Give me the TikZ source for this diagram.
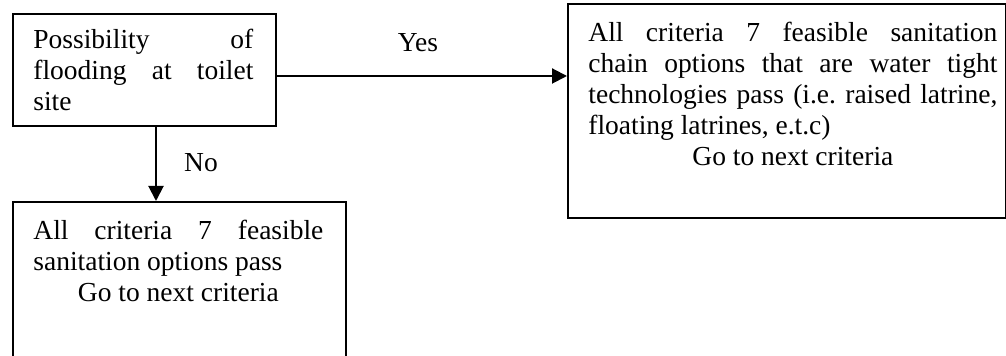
\documentclass[tikz,border=0pt]{standalone}
\usepackage{fontspec}
\setmainfont{Liberation Serif}
\frenchspacing
\usetikzlibrary{arrows.meta,calc}
\tikzset{
  boxframe/.style={draw, line width=1pt, rectangle, inner sep=0pt, anchor=north west},
  boxtext/.style={inner sep=0pt, anchor=north west, align=justify,
    font=\fontsize{13.75pt}{15.5pt}\selectfont},
  flow/.style={line width=1pt, -{Triangle[length=7.5pt,width=7.5pt]}},
  lbl/.style={inner sep=0pt, font=\fontsize{13.75pt}{15.5pt}\selectfont},
}
\begin{document}
\begin{tikzpicture}[x=1pt,y=1pt]
\path[use as bounding box] (0,0) rectangle (503,-178);
\begin{scope}
\clip (0,0) rectangle (503,-178);
% frames of the three boxes
\node[boxframe, minimum width=131.5pt, minimum height=56pt] (b1) at (6,-6.5) {};
\node[boxframe, minimum width=219pt, minimum height=107pt] (b2) at (283.5,-1.5) {};
\node[boxframe, minimum width=166.5pt, minimum height=100pt] (b3) at (6,-100.5) {};
% box texts
\node[boxtext, text width=110pt] (t1) at (16.5,-14.3)
  {Possibility of\linebreak flooding at toilet\linebreak site};
\node[boxtext, text width=204.5pt] (t2) at (294,-11)
  {All criteria 7 feasible sanitation\linebreak chain options that are water tight\linebreak
   technologies pass (i.e. raised latrine,\linebreak floating latrines, e.t.c)\par
   {\centering Go to next criteria\par}};
\node[boxtext, text width=145pt] (t3) at (16.5,-110)
  {All criteria 7 feasible\linebreak sanitation options pass\par
   {\centering Go to next criteria\par}};
% connectors
\coordinate (yesrow) at (0,-38);
\coordinate (nocol) at (78,0);
\draw[flow] (b1.east |- yesrow) -- (b2.west |- yesrow);
\draw[flow] (b1.south -| nocol) -- (b3.north -| nocol);
\node[lbl] (yes) at (209,-21.5) {Yes};
\node[lbl] (no) at (100.5,-81.5) {No};
\end{scope}
\end{tikzpicture}
\end{document}
